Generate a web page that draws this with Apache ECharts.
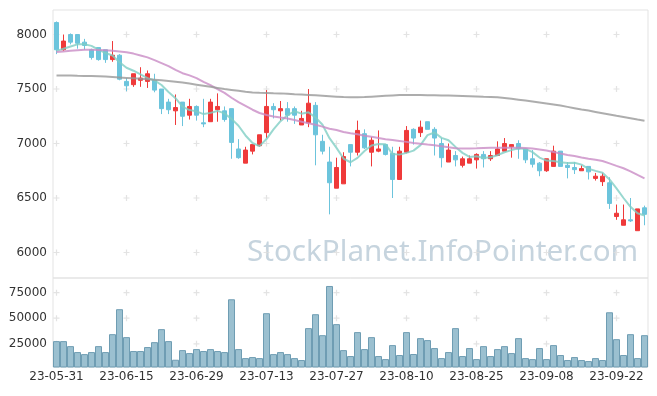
<!DOCTYPE html>
<html><head><meta charset="utf-8">
<script src="https://cdn.jsdelivr.net/npm/echarts@6/dist/echarts.min.js"></script>
<style>html,body{margin:0;padding:0;background:#fff}#c{width:657px;height:396px}</style>
</head><body><div id="c"></div>
<script>
const dates = ['23-05-31','23-06-01','23-06-02','23-06-05','23-06-07','23-06-08','23-06-09','23-06-12','23-06-13','23-06-14',
'23-06-15','23-06-16','23-06-19','23-06-20','23-06-21','23-06-22','23-06-23','23-06-26','23-06-27','23-06-28',
'23-06-29','23-06-30','23-07-03','23-07-04','23-07-05','23-07-06','23-07-07','23-07-10','23-07-11','23-07-12',
'23-07-13','23-07-14','23-07-17','23-07-18','23-07-19','23-07-20','23-07-21','23-07-24','23-07-25','23-07-26',
'23-07-27','23-07-28','23-07-31','23-08-01','23-08-02','23-08-03','23-08-04','23-08-07','23-08-08','23-08-09',
'23-08-10','23-08-11','23-08-14','23-08-16','23-08-17','23-08-18','23-08-21','23-08-22','23-08-23','23-08-24',
'23-08-25','23-08-28','23-08-29','23-08-30','23-08-31','23-09-01','23-09-04','23-09-05','23-09-06','23-09-07',
'23-09-08','23-09-11','23-09-12','23-09-13','23-09-14','23-09-15','23-09-18','23-09-19','23-09-20','23-09-21',
'23-09-22','23-09-25','23-09-26','23-09-27','23-10-04'];
const opens = [8110,7860,8000,8000,7930,7860,7880,7860,7770,7810,
7570,7540,7580,7570,7580,7500,7380,7300,7380,7260,
7340,7190,7200,7310,7300,7320,6950,6820,6930,6980,
7100,7340,7300,7320,7320,7170,7190,7350,7020,6830,
6590,6630,6990,6920,7090,6920,6930,6990,6910,6670,
6920,7130,7100,7200,7130,7000,6830,6890,6800,6820,
6850,6900,6860,6890,6930,6970,7000,6950,6860,6820,
6750,6790,6930,6800,6780,6750,6790,6680,6650,6640,
6330,6250,6300,6200,6410];
const closes = [7860,7940,7930,7920,7900,7790,7770,7770,7810,7590,
7530,7640,7600,7640,7490,7320,7310,7330,7250,7340,
7260,7180,7380,7340,7220,7010,6870,6940,6990,7080,
7340,7310,7320,7260,7260,7230,7370,7080,6930,6640,
6780,6880,6920,7120,6960,7030,6950,6900,6670,6930,
7120,7050,7150,7130,7050,6870,6940,6850,6860,6860,
6900,6860,6890,6950,7000,6990,6950,6850,6810,6750,
6860,6930,6790,6780,6760,6770,6740,6700,6700,6450,
6360,6300,6290,6400,6350];
const lows = [7820,7850,7910,7870,7860,7770,7760,7740,7750,7580,
7480,7520,7520,7510,7470,7270,7270,7170,7160,7220,
7210,7150,7200,7200,7200,6860,6860,6820,6900,6970,
7050,7230,7210,7200,7180,7170,7150,6800,6900,6350,
6590,6630,6790,6890,6950,6790,6920,6890,6500,6670,
6910,6990,7060,7130,6890,6780,6830,6790,6780,6820,
6770,6780,6840,6890,6930,6870,6860,6820,6780,6700,
6740,6790,6790,6680,6720,6750,6670,6660,6610,6400,
6300,6250,6280,6200,6250];
const highs = [8120,8000,8010,8000,7960,7870,7880,7860,7940,7820,
7600,7640,7700,7670,7640,7500,7410,7450,7380,7410,
7350,7410,7410,7460,7340,7320,7040,6970,6990,7080,
7490,7370,7390,7380,7340,7300,7500,7380,7080,6970,
6870,6920,6990,7210,7130,7060,7120,6990,6970,6970,
7160,7140,7210,7200,7150,7050,7000,6930,6880,6890,
6910,6930,6930,7020,7050,6990,7030,6950,6940,6830,
6860,6980,6930,6830,6830,6800,6790,6730,6730,6690,
6440,6440,6500,6400,6430];
const volumes = [27600,27600,22700,16900,14900,16900,22700,16900,34400,58800,
31500,17900,17900,21800,26600,39300,27600,9400,18800,15900,
19800,17900,19800,17900,16900,68500,19800,11000,12000,11000,
54900,14900,16900,14900,11000,9100,40300,53900,33400,81500,
44200,18800,13000,36400,19800,31500,13000,10000,23700,14000,
36400,15000,30500,28600,20800,11000,16900,40300,13000,20800,
10000,22700,13000,19800,22700,15900,30500,11000,10000,20800,
10000,23700,14000,9100,12000,9100,8100,11000,9100,55800,
29500,14000,34400,11000,33400];
const ma5 = [7850,7870,7890,7910,7911,7896,7862,7830,7807,7746,
7695,7668,7634,7600,7580,7537,7472,7416,7338,7307,
7295,7270,7281,7299,7276,7226,7163,7074,7005,6976,
7041,7129,7205,7260,7296,7274,7286,7239,7172,7049,
6960,6862,6828,6868,6931,6981,6996,6993,6903,6898,
6914,6935,6985,7077,7101,7052,7030,6969,6914,6877,
6883,6867,6874,6893,6920,6939,6956,6950,6921,6871,
6843,6839,6828,6822,6824,6806,6768,6749,6732,6670,
6588,6500,6419,6360,6340];
const ma20 = [7840,7845,7850,7855,7860,7860,7858,7855,7850,7845,
7838,7825,7808,7790,7765,7738,7710,7675,7645,7625,
7600,7565,7535,7500,7465,7420,7380,7345,7310,7280,
7262,7248,7238,7230,7215,7200,7185,7172,7155,7135,
7124,7105,7094,7085,7072,7062,7050,7040,7032,7024,
7015,7005,6997,6990,6985,6975,6965,6956,6955,6955,
6956,6958,6960,6960,6962,6962,6960,6958,6955,6945,
6935,6922,6908,6895,6885,6872,6860,6850,6840,6818,
6795,6773,6745,6712,6681];
const ma60 = [7625,7624,7623,7621,7620,7619,7618,7614,7610,7606,
7602,7598,7594,7590,7585,7580,7574,7567,7560,7550,
7540,7530,7520,7510,7500,7492,7484,7474,7468,7465,
7463,7461,7460,7456,7452,7449,7446,7442,7438,7434,
7430,7426,7424,7424,7426,7430,7434,7438,7441,7444,
7445,7445,7444,7443,7442,7441,7440,7439,7437,7434,
7431,7428,7426,7424,7418,7410,7402,7394,7386,7377,
7368,7358,7348,7336,7324,7312,7302,7290,7278,7266,
7254,7243,7232,7220,7209];
const priceTicks = [6000,6500,7000,7500,8000];
const volumeTicks = [25000,50000,75000];
const labelIndices = [0,10,20,30,40,50,60,70,80];

const candleData = opens.map((o,i)=>[o, closes[i], lows[i], highs[i]]);
const priceCross = [], volCross = [];
labelIndices.forEach(ix=>{
  priceTicks.forEach(v=>priceCross.push([ix, v]));
  volumeTicks.forEach(v=>volCross.push([ix, v]));
});
const plus = 'path://M4,0H6V4H10V6H6V10H4V6H0V4H4Z';
const FONT = 'DejaVu Sans';
const plain = v => String(v);

const chart = echarts.init(document.getElementById('c'), null, {renderer:'canvas'});
chart.setOption({
  animation: false,
  backgroundColor: '#fff',
  textStyle: {fontFamily: FONT},
  grid: [
    {left: 53, right: 9, top: 10, height: 268, show: true, borderColor: '#e3e3e3', borderWidth: 1},
    {left: 53, right: 9, top: 278, height: 89, show: true, borderColor: '#e3e3e3', borderWidth: 1}
  ],
  xAxis: [
    {type:'category', gridIndex:0, data: dates, boundaryGap:true,
     axisLine:{show:false}, axisTick:{show:false}, axisLabel:{show:false}, splitLine:{show:false}},
    {type:'category', gridIndex:1, data: dates, boundaryGap:true,
     axisLine:{show:false}, axisTick:{show:false}, splitLine:{show:false},
     axisLabel:{interval:9, color:'#333', fontSize:12, margin:4, fontFamily:FONT}}
  ],
  yAxis: [
    {type:'value', gridIndex:0, min:5766, max:8225, splitLine:{show:false},
     axisLine:{show:false}, axisTick:{show:false},
     axisLabel:{customValues: priceTicks, formatter: plain, color:'#333', fontSize:12, margin:6, fontFamily:FONT}},
    {type:'value', gridIndex:1, min:2300, max:89300, splitLine:{show:false},
     axisLine:{show:false}, axisTick:{show:false},
     axisLabel:{customValues: volumeTicks, formatter: plain, color:'#333', fontSize:12, margin:6, fontFamily:FONT}}
  ],
  graphic: [{
    type:'text', left:247, top:238, z:0, silent:true,
    style:{text:'StockPlanet.InfoPointer.com', fontSize:29.6, fontFamily:'Noto Sans', fill:'#c6d4de'}
  }],
  series: [
    {type:'scatter', xAxisIndex:0, yAxisIndex:0, data:priceCross, symbol:plus, symbolSize:6,
     itemStyle:{color:'#dcdcdc'}, silent:true, z:1},
    {type:'scatter', xAxisIndex:1, yAxisIndex:1, data:volCross, symbol:plus, symbolSize:6,
     itemStyle:{color:'#dcdcdc'}, silent:true, z:1},
    {type:'candlestick', xAxisIndex:0, yAxisIndex:0, data:candleData, barWidth:'75%', barMaxWidth:6, z:2,
     itemStyle:{color:'#ef3a3a', color0:'#6cc4dc', borderColor:'#ef3a3a', borderColor0:'#6cc4dc', borderWidth:1}},
    {type:'line', xAxisIndex:0, yAxisIndex:0, data:ma5, showSymbol:false, z:3,
     lineStyle:{color:'#7fcec4', width:2, opacity:0.8}},
    {type:'line', xAxisIndex:0, yAxisIndex:0, data:ma20, showSymbol:false, z:3,
     lineStyle:{color:'#c98cc6', width:2, opacity:0.8}},
    {type:'line', xAxisIndex:0, yAxisIndex:0, data:ma60, showSymbol:false, z:3,
     lineStyle:{color:'#999999', width:2, opacity:0.8}},
    {type:'bar', xAxisIndex:1, yAxisIndex:1, data:volumes, barCategoryGap:'0%', z:2,
     itemStyle:{color:'#9bc0d0', borderColor:'#6f9db3', borderWidth:1}}
  ]
});
</script></body></html>
